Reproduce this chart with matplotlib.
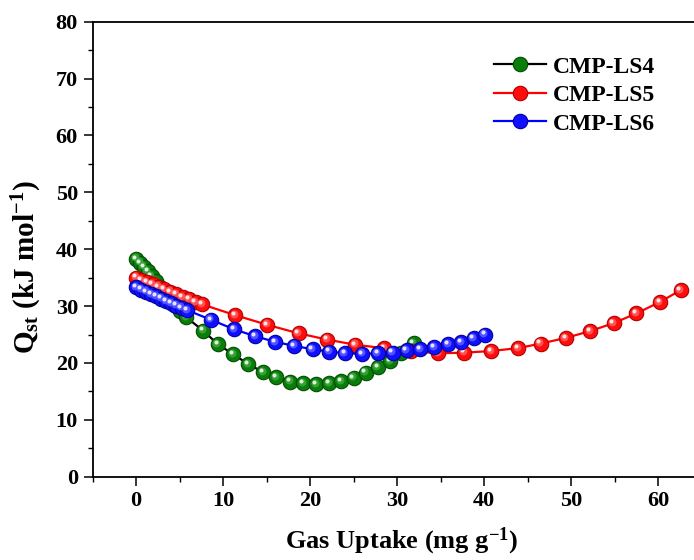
import matplotlib
matplotlib.use("Agg")
import matplotlib.pyplot as plt
from matplotlib.transforms import offset_copy
from matplotlib.lines import Line2D
from matplotlib.ticker import MultipleLocator

plt.rcParams['font.family'] = ['Liberation Serif', 'DejaVu Serif']
plt.rcParams['font.weight'] = 'bold'
plt.rcParams['mathtext.fontset'] = 'custom'
plt.rcParams['mathtext.rm'] = 'Liberation Serif:bold'
plt.rcParams['mathtext.bf'] = 'Liberation Serif:bold'
plt.rcParams['mathtext.it'] = 'Liberation Serif:bold'

# ---- data ----
series_names = ["CMP-LS4", "CMP-LS5", "CMP-LS6"]

ls4_x = [0, 0.45, 0.9, 1.35, 1.8, 2.3, 2.8, 3.3, 3.85, 4.4, 5.0, 5.8, 7.7, 9.4,
         11.2, 12.9, 14.6, 16.1, 17.7, 19.2, 20.7, 22.2, 23.6, 25.0, 26.4, 27.8,
         29.2, 30.5, 31.9]
ls4_y = [38.3, 37.6, 36.9, 36.1, 35.3, 34.4, 33.4, 32.4, 31.3, 30.2, 29.1, 28.0,
         25.7, 23.3, 21.5, 19.8, 18.4, 17.5, 16.7, 16.4, 16.3, 16.4, 16.8, 17.4,
         18.3, 19.3, 20.3, 21.8, 23.5]

ls5_x = [0, 0.6, 1.25, 1.9, 2.55, 3.2, 3.9, 4.6, 5.35, 6.1, 6.85, 7.6, 11.4,
         15.1, 18.7, 22.0, 25.2, 28.5, 31.6, 34.7, 37.7, 40.8, 43.9, 46.5, 49.4,
         52.2, 54.9, 57.5, 60.2, 62.6]
ls5_y = [35.0, 34.6, 34.2, 33.8, 33.4, 33.0, 32.5, 32.1, 31.6, 31.2, 30.7, 30.3,
         28.4, 26.7, 25.2, 24.1, 23.2, 22.6, 22.1, 21.7, 21.8, 22.1, 22.6, 23.4,
         24.4, 25.6, 27.0, 28.7, 30.7, 32.8]

ls6_x = [0, 0.58, 1.16, 1.74, 2.32, 2.9, 3.48, 4.06, 4.64, 5.25, 5.85, 8.6,
         11.3, 13.7, 16.0, 18.2, 20.3, 22.2, 24.0, 26.0, 27.8, 29.5, 31.1, 32.7,
         34.3, 35.9, 37.4, 38.8, 40.1]
ls6_y = [33.3, 32.9, 32.5, 32.1, 31.7, 31.3, 30.9, 30.5, 30.1, 29.7, 29.3, 27.6,
         25.9, 24.7, 23.7, 23.0, 22.4, 22.0, 21.7, 21.6, 21.7, 21.8, 22.2, 22.4,
         22.8, 23.3, 23.7, 24.4, 25.0]

x_ticks = [0, 10, 20, 30, 40, 50, 60]
y_ticks = [0, 10, 20, 30, 40, 50, 60, 70, 80]

# ---- style ----
styles = [
    dict(line='#000000', face='#0a7d0a', edge='#004d00', mid='#3aa53a'),
    dict(line='#ff0000', face='#ff0c0c', edge='#b00000', mid='#ff5a5a'),
    dict(line='#0000ff', face='#1010ff', edge='#0000a0', mid='#5a5aff'),
]

fig = plt.figure(figsize=(6.94, 5.60), dpi=100)
ax = fig.add_axes([92.5 / 694, 83.3 / 560, 609 / 694, 455 / 560])

MS = 10.4


def beads(ax, x, y, st, z):
    ax.plot(x, y, '-', color=st['line'], lw=1.6, zorder=z)
    ax.plot(x, y, 'o', ls='none', ms=MS, mfc=st['face'], mec=st['edge'],
            mew=0.8, zorder=z + 0.01)
    t1 = offset_copy(ax.transData, fig=fig, x=-1.0, y=1.0, units='points')
    ax.plot(x, y, 'o', ls='none', ms=MS * 0.55, mfc=st['mid'], mec='none',
            alpha=0.9, transform=t1, zorder=z + 0.02)
    t2 = offset_copy(ax.transData, fig=fig, x=-1.6, y=1.6, units='points')
    ax.plot(x, y, 'o', ls='none', ms=MS * 0.28, mfc='white', mec='none',
            alpha=0.85, transform=t2, zorder=z + 0.03)


all_x = [ls4_x, ls5_x, ls6_x]
all_y = [ls4_y, ls5_y, ls6_y]
for i, (xs, ys, st) in enumerate(zip(all_x, all_y, styles)):
    beads(ax, xs, ys, st, 2 + i)

ax.set_xlim(-5, 65)
ax.set_ylim(0, 80)
ax.set_xticks(x_ticks)
ax.set_yticks(y_ticks)
ax.xaxis.set_minor_locator(MultipleLocator(5))
ax.yaxis.set_minor_locator(MultipleLocator(5))
ax.tick_params(which='major', direction='out', length=6.5, width=1.1,
               labelsize=16, pad=4)
ax.tick_params(which='minor', direction='out', length=3.5, width=1.0)
for lab in ax.get_xticklabels() + ax.get_yticklabels():
    lab.set_fontweight('bold')
for s in ax.spines.values():
    s.set_linewidth(1.3)

ax.set_xlabel('Gas Uptake (mg g$^{-1}$)', fontsize=19, fontweight='bold')
ax.set_ylabel('Q$_{\\mathrm{st}}$ (kJ mol$^{-1}$)', fontsize=21, fontweight='bold')
ax.xaxis.set_label_coords(0.507, -0.108)
ax.yaxis.set_label_coords(-0.080, 0.46)

# legend
handles = []
for st in styles:
    handles.append(Line2D([0], [0], color=st['line'], lw=1.6, marker='o', ms=MS,
                          mfc=st['face'], mec=st['edge'], mew=0.8))
leg = fig.legend(handles, series_names, loc='upper left',
                 bbox_to_anchor=(494 / 694, 1 - 56 / 560), frameon=False,
                 prop=dict(family='Liberation Serif', weight='bold', size=17),
                 handlelength=2.2, handletextpad=0.3, labelspacing=0.3,
                 borderpad=0, borderaxespad=0)

fig.savefig('out.png', dpi=100)
